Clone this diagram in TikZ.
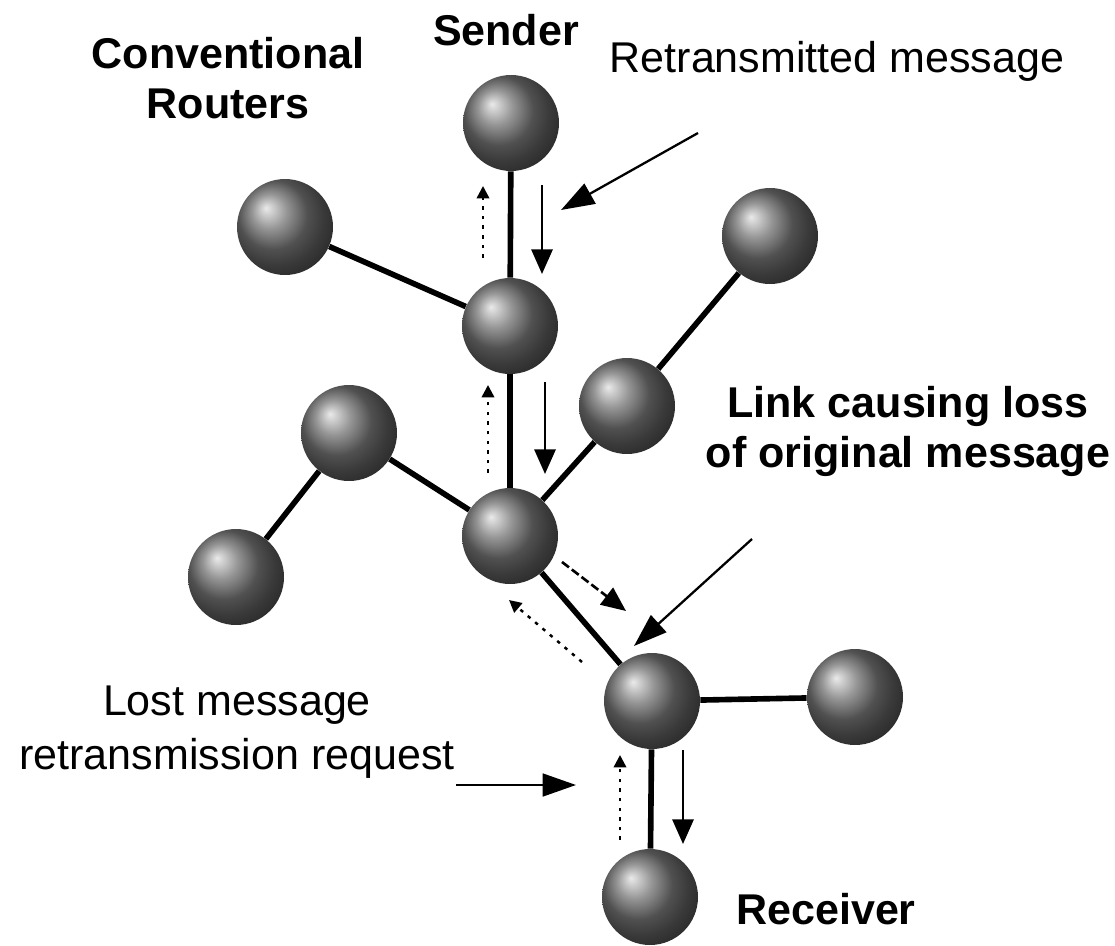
\documentclass[tikz,border=0pt]{standalone}
\usepackage{fontspec}
\setmainfont{Liberation Sans}
\usetikzlibrary{arrows.meta}
\tikzset{
  router/.style={circle, minimum size=1.92cm, inner sep=0pt, ball color=black!55, shading=ball},
  link/.style={line width=3.2pt, black},
  msg/.style={line width=1.5pt, -{Triangle[width=12pt,length=14pt]}},
  req/.style={line width=1.4pt, dash pattern=on 2pt off 3.5pt, -{Triangle[width=7pt,length=7pt]}},
  pointer/.style={line width=1.3pt, -{Triangle[width=13pt,length=19pt]}},
  lblb/.style={font=\fontsize{24.5}{28.5}\selectfont\bfseries, align=center},
  lblr/.style={font=\fontsize{24.5}{29}\selectfont, align=center}
}
\begin{document}
\begin{tikzpicture}[x=0.02cm, y=-0.02cm]
\useasboundingbox (0,0) rectangle (1115,946);
\fill[white] (0,0) rectangle (1115,946);
% routers
\node[router] (S) at (511,123) {};
\node[router] (A) at (285,227) {};
\node[router] (B) at (510,326) {};
\node[router] (C) at (770,236) {};
\node[router] (D) at (627,406) {};
\node[router] (E) at (349,433) {};
\node[router] (F) at (236,577) {};
\node[router] (G) at (510,536) {};
\node[router] (H) at (652,701) {};
\node[router] (I) at (855,697) {};
\node[router] (R) at (650,897) {};
% links
\draw[link] (S) -- (B);
\draw[link] (A) -- (B);
\draw[link] (B) -- (G);
\draw[link] (C) -- (D);
\draw[link] (D) -- (G);
\draw[link] (E) -- (G);
\draw[link] (E) -- (F);
\draw[link] (G) -- (H);
\draw[link] (H) -- (I);
\draw[link] (H) -- (R);
% message / request arrows
\coordinate (m1a) at (542,185); \coordinate (m1b) at (542,274);
\coordinate (r1a) at (483,258); \coordinate (r1b) at (483,186);
\coordinate (m2a) at (545,382); \coordinate (m2b) at (545,474);
\coordinate (r2a) at (488,473); \coordinate (r2b) at (488,385);
\coordinate (m3a) at (562,562); \coordinate (m3b) at (626,611);
\coordinate (r3a) at (582,662); \coordinate (r3b) at (509,600);
\coordinate (m4a) at (683,750); \coordinate (m4b) at (683,844);
\coordinate (r4a) at (620,840); \coordinate (r4b) at (620,755);
\draw[msg] (m1a) -- (m1b);
\draw[req] (r1a) -- (r1b);
\draw[msg] (m2a) -- (m2b);
\draw[req] (r2a) -- (r2b);
\draw[msg, dash pattern=on 5pt off 2pt] (m3a) -- (m3b);
\draw[req] (r3a) -- (r3b);
\draw[msg] (m4a) -- (m4b);
\draw[req] (r4a) -- (r4b);
% labels
\node[lblb] (lsend) at (506,30) {Sender};
\node[lblb] (lconv) at (228,78) {Conventional\\Routers};
\node[lblr] (lretx) at (837,61) {Retransmitted message};
\node[lblb] (llink1) at (908,406) {Link causing loss};
\node[lblb] (llink2) at (908,456) {of original message};
\node[lblr] (llost1) at (237,705) {Lost message};
\node[lblr] (llost2) at (237,758) {retransmission request};
\node[lblb] (lrecv) at (826,909) {Receiver};
% pointers
\coordinate (p1s) at (698,133); \coordinate (p1e) at (561,210);
\coordinate (p2s) at (752,539); \coordinate (p2e) at (634,646);
\coordinate (p3s) at (456,785); \coordinate (p3e) at (576,785);
\draw[pointer] (p1s) -- (p1e);
\draw[pointer] (p2s) -- (p2e);
\draw[pointer] (p3s) -- (p3e);
\end{tikzpicture}
\end{document}
